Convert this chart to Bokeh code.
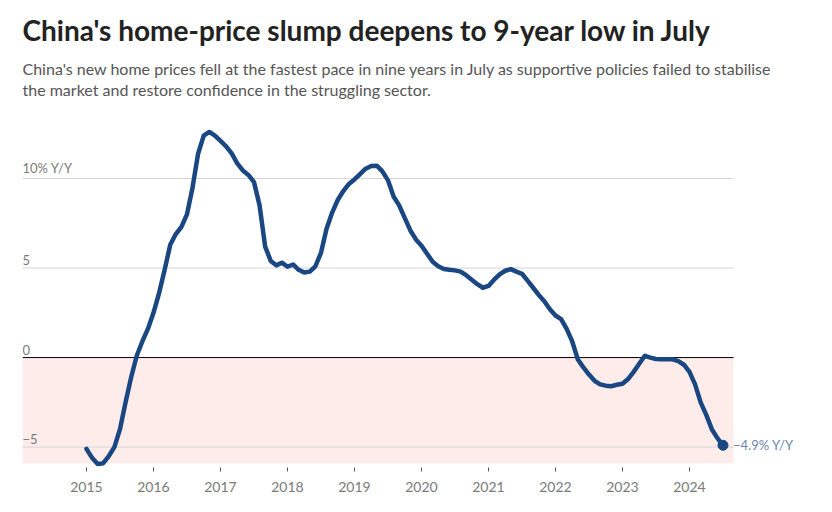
from bokeh.plotting import figure
from bokeh.models import Range1d, FixedTicker, BoxAnnotation, Title, ColumnDataSource
from bokeh.core.properties import value
from bokeh.embed import file_html
from bokeh.resources import INLINE

# ---- data -------------------------------------------------------------
title_text = "China's home-price slump deepens to 9-year low in July"
subtitle_lines = [
    "China's new home prices fell at the fastest pace in nine years in July as supportive policies failed to stabilise",
    "the market and restore confidence in the struggling sector.",
]
start_year = 2015
# monthly new home prices, % change year-on-year, Jan 2015 .. Jul 2024
yoy = [
    -5.1, -5.6, -5.95, -5.9, -5.5, -5.0, -4.0, -2.5, -1.1, 0.1, 0.9, 1.6,        # 2015
    2.5, 3.6, 4.9, 6.3, 6.9, 7.3, 8.0, 9.5, 11.4, 12.4, 12.6, 12.4,             # 2016
    12.1, 11.8, 11.4, 10.85, 10.45, 10.2, 9.8, 8.5, 6.2, 5.4, 5.15, 5.3,        # 2017
    5.07, 5.2, 4.9, 4.75, 4.8, 5.1, 5.85, 7.2, 8.1, 8.8, 9.3, 9.7,              # 2018
    9.95, 10.25, 10.55, 10.7, 10.72, 10.4, 9.9, 9.0, 8.5, 7.8, 7.1, 6.6,        # 2019
    6.25, 5.8, 5.35, 5.1, 4.95, 4.9, 4.87, 4.8, 4.6, 4.35, 4.1, 3.9,            # 2020
    4.0, 4.35, 4.65, 4.85, 4.94, 4.8, 4.68, 4.3, 3.9, 3.5, 3.15, 2.7,           # 2021
    2.35, 2.15, 1.6, 0.9, -0.1, -0.55, -0.95, -1.3, -1.5, -1.57, -1.6, -1.52,   # 2022
    -1.46, -1.2, -0.8, -0.35, 0.1, 0.0, -0.08, -0.1, -0.1, -0.1, -0.2, -0.4,    # 2023
    -0.8, -1.5, -2.5, -3.2, -4.0, -4.5, -4.9,                                   # 2024
]
x_years = [2015, 2016, 2017, 2018, 2019, 2020, 2021, 2022, 2023, 2024]
x_labels = [str(y) for y in x_years]
y_ticks = [-5, 0, 5, 10]
y_labels = ["−5", "0", "5", "10% Y/Y"]
grid_values = [-5, 5, 10]
zero_value = [0]
negative_zone = (-5.9, 0)

dates = [start_year + i / 12 for i in range(len(yoy))]

# ---- style ------------------------------------------------------------
FONT = "Lato"
LINE = "#1a4782"
GRAY = "#7a7a7a"

W, H = 830, 510
LEFT, BOTTOM = 22, 43
PX_PER_YEAR = 67.0
x_start = 2014.045
x_end = x_start + (W - LEFT) / PX_PER_YEAR
x_area_end = 2024.657          # right edge of grid / shaded band
y_start, y_end = -6.14, 14.47

p = figure(width=W, height=H, output_backend="svg", toolbar_location=None,
           x_range=Range1d(x_start, x_end), y_range=Range1d(y_start, y_end),
           min_border_left=LEFT, min_border_right=0, min_border_bottom=BOTTOM, min_border_top=0)
p.title.visible = False
p.outline_line_color = None
p.background_fill_color = "white"
p.border_fill_color = "white"

# titles (added from closest-to-plot outwards)
t2 = Title(text=subtitle_lines[1], text_font=FONT, text_font_size="16px", text_font_style="normal",
           text_color="#555555", align="left", standoff=0)
t1 = Title(text=subtitle_lines[0], text_font=FONT, text_font_size="16px", text_font_style="normal",
           text_color="#555555", align="left", standoff=0)
t0 = Title(text=title_text, text_font=FONT, text_font_size="28px", text_font_style="bold",
           text_color="#222222", align="left", standoff=20)
p.add_layout(t2, "above")
p.add_layout(t1, "above")
p.add_layout(t0, "above")

# negative band
p.add_layout(BoxAnnotation(left=x_start, right=x_area_end,
                           bottom=negative_zone[0], top=negative_zone[1], fill_color="#fdecea",
                           fill_alpha=1.0, line_color=None, level="underlay"))

# axes/grid
p.yaxis.visible = False
p.xgrid.visible = False
p.ygrid.visible = False

gsrc = ColumnDataSource(dict(x0=[x_start] * len(grid_values), x1=[x_area_end] * len(grid_values),
                             y=grid_values))
p.segment(x0="x0", y0="y", x1="x1", y1="y", source=gsrc, line_color="#d6d6d6", line_width=1)
p.segment(x0=[x_start], y0=zero_value, x1=[x_area_end], y1=zero_value, line_color="black", line_width=1)

p.xaxis.ticker = FixedTicker(ticks=x_years)
p.xaxis.major_label_overrides = {y: l for y, l in zip(x_years, x_labels)}
p.xaxis.axis_line_color = None
p.xaxis.major_tick_line_color = "#555555"
p.xaxis.major_tick_in = 0
p.xaxis.major_tick_out = 4
p.xaxis.minor_tick_line_color = None
p.xaxis.major_label_standoff = 10
p.xaxis.major_label_text_font = FONT
p.xaxis.major_label_text_font_size = "14px"
p.xaxis.major_label_text_color = GRAY

# y labels
ysrc = ColumnDataSource(dict(x=[x_start] * len(y_ticks), y=y_ticks, t=y_labels))
p.text(x="x", y="y", text="t", source=ysrc, text_align="left", text_baseline="bottom",
       y_offset=-3, text_font=value(FONT), text_font_size="13px", text_color=GRAY)

# series
src = ColumnDataSource(dict(x=dates, y=yoy))
p.line(x="x", y="y", source=src, line_color=LINE, line_width=4.5, line_join="round", line_cap="round")
p.scatter(x=[dates[-1]], y=[yoy[-1]], size=10, color=LINE)

last = yoy[-1]
last_txt = ("−" if last < 0 else "") + f"{abs(last):.1f}% Y/Y"
p.text(x=[dates[-1]], y=[yoy[-1]], text=[last_txt], x_offset=10, text_baseline="middle",
       text_align="left", text_font=value(FONT), text_font_size="13px", text_color="#6a88ad")

open("out.html", "w").write(file_html(p, INLINE))
